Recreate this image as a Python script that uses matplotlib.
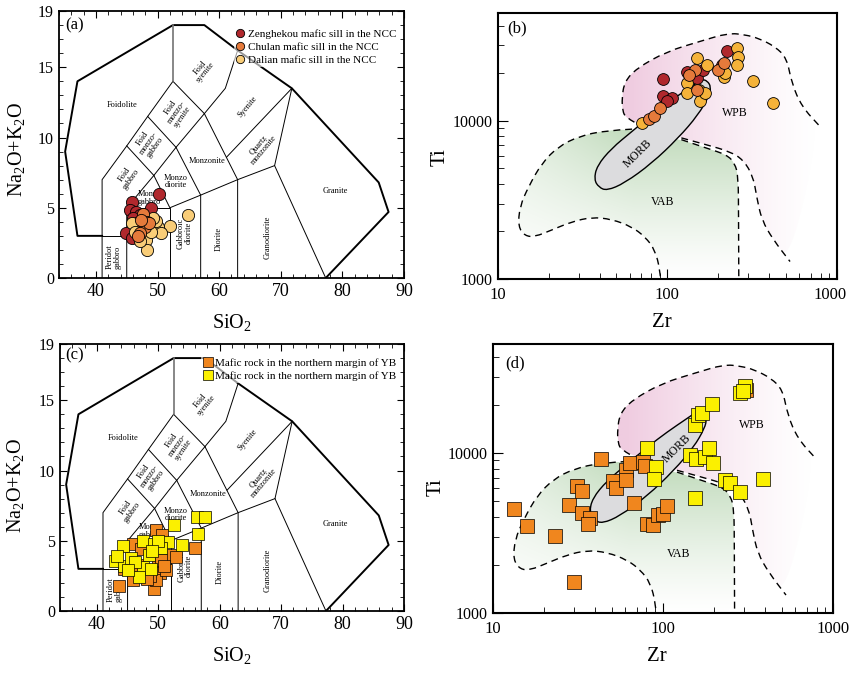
import numpy as np
import matplotlib
matplotlib.use('Agg')
import matplotlib.pyplot as plt
from matplotlib.path import Path
from matplotlib.patches import PathPatch
from matplotlib.lines import Line2D
from matplotlib.transforms import ScaledTranslation
from matplotlib.ticker import MultipleLocator, FixedLocator, NullFormatter, FuncFormatter, LogLocator

plt.rcParams['font.family'] = ['Liberation Serif', 'DejaVu Serif']
plt.rcParams['mathtext.fontset'] = 'custom'
plt.rcParams['mathtext.rm'] = 'Liberation Serif'
plt.rcParams['mathtext.it'] = 'Liberation Serif:italic'

# ---------------- data: TAS (SiO2 vs Na2O+K2O) ----------------
zeng_si = [50.2, 45.9, 49.0, 45.5, 46.5, 47.2, 46.0, 44.8, 45.8, 46.6, 48.2]
zeng_alk = [6.0, 5.4, 5.0, 4.85, 4.7, 4.5, 4.3, 3.2, 2.85, 3.9, 4.2]
chul_si = [47.7, 48.3, 47.9, 47.2, 46.8, 48.6, 47.3]
chul_alk = [4.55, 4.0, 3.65, 3.2, 3.0, 3.9, 4.1]
dal_si = [54.9, 52.0, 50.1, 50.6, 45.8, 49.8, 48.2, 48.3, 46.4, 47.2, 48.9, 49.3]
dal_alk = [4.5, 3.7, 3.65, 3.2, 3.9, 4.05, 2.7, 2.0, 3.3, 2.65, 3.3, 4.3]

yb_or_si = [43.6, 45.9, 49.3, 49.6, 50.6, 55.9, 52.3, 52.9, 49.9, 50.2, 49.6, 45.9,
            50.4, 46.9, 48.6, 51.2, 47.2, 44.5, 50.9, 48.2]
yb_or_alk = [1.8, 2.2, 1.6, 5.8, 5.4, 4.45, 4.0, 3.85, 3.4, 2.7, 2.2, 4.8,
             3.6, 3.3, 2.5, 2.9, 4.4, 3.0, 3.2, 2.3]
yb_ye_si = [56.3, 57.6, 52.6, 56.4, 53.9, 51.6, 47.5, 44.2, 42.9, 44.5, 47.5, 48.5,
            46.9, 45.6, 49.3, 50.4, 48.8, 43.3, 50.0, 49.0, 46.2, 45.0]
yb_ye_alk = [6.7, 6.7, 6.1, 5.45, 4.7, 4.9, 5.0, 4.6, 3.55, 3.2, 3.1, 4.0,
             2.4, 3.75, 4.8, 4.45, 3.0, 3.9, 5.0, 4.3, 3.5, 2.9]

# ---------------- data: Ti vs Zr ----------------
zeng_zr = [94.7, 94.7, 106, 130, 149, 162, 209, 224, 100]
zeng_ti = [18400, 14300, 13900, 20500, 18600, 21000, 22600, 27500, 13300]
chul_zr = [78, 84, 90.6, 145, 149, 200, 215, 135]
chul_ti = [10300, 10800, 12000, 21000, 15700, 21000, 23200, 19500]
dal_zr = [70.6, 149, 171, 130, 130, 153, 156, 167, 215, 256, 262, 256, 321, 422, 219]
dal_ti = [9700, 24950, 22600, 17300, 14950, 15700, 13250, 14950, 19060, 28840, 25500,
          22600, 17740, 12900, 20050]

yb_or_zr = [13.4, 16.0, 23.3, 30.1, 31.2, 33.4, 28.2, 33.4, 37.3, 36.3, 43.2, 51.2,
            53.1, 60.5, 60.5, 64.1, 76.0, 78.8, 67.6, 80.3, 87.7, 94.1, 100.6, 106.2, 310]
yb_or_ti = [4450, 3500, 3030, 1565, 6230, 5800, 4720, 4240, 3910, 3590, 9200, 6730,
            6030, 7780, 6800, 8650, 8800, 8240, 4850, 3590, 3550, 4100, 4140, 4690, 25000]
yb_ye_zr = [80.3, 91.2, 88.6, 154.6, 144.4, 156.7, 177, 187.7, 196.5, 154.6, 161.6,
            170.5, 193.6, 232, 248, 284, 386, 284, 304, 295]
yb_ye_ti = [10740, 8170, 6900, 5220, 9750, 9160, 9440, 10740, 8650, 15070, 17380,
            17800, 20280, 6800, 6540, 5690, 6870, 23770, 26180, 24320]

# ---------------- TAS field boundaries (Middlemost 1994) ----------------
tas_outer = [(41, 3), (37, 3), (35, 9), (37, 14), (52.5, 18), (57.6, 18), (63, 16.2),
             (71.8, 13.5), (85.9, 6.8), (87.5, 4.7), (77.3, 0)]
tas_inner = [
    [(41, 0), (41, 7), (45, 9.4), (48.4, 11.5), (52.5, 14)],
    [(41, 3), (45, 3)],
    [(45, 0), (45, 5), (49.4, 7.3), (53, 9.3), (57.6, 11.7), (61, 13.5), (63, 16.2)],
    [(45, 5), (52, 5), (52, 0)],
    [(45, 9.4), (49.4, 7.3)],
    [(48.4, 11.5), (53, 9.3)],
    [(52.5, 14), (57.6, 11.7)],
    [(49.4, 7.3), (52, 5), (57, 5.9), (63, 7), (69, 8), (71.8, 13.5)],
    [(53, 9.3), (57, 5.9), (57, 0)],
    [(57.6, 11.7), (63, 7), (63, 0)],
    [(61.2, 8.6), (71.8, 13.5)],
    [(69, 8), (77.3, 0)],
]
tas_labels = [
    ('Foidolite', 44.2, 12.3, 0),
    ('Foid\nsyenite', 57.3, 14.8, 50),
    ('Foid\nmonzo-\nsyenite', 53.1, 11.8, 55),
    ('Foid\nmonzo-\ngabbro', 48.6, 9.6, 55),
    ('Foid\ngabbro', 45.2, 7.2, 55),
    ('Monzo\ngabbro', 48.7, 5.7, 0),
    ('Monzo\ndiorite', 52.9, 6.85, 0),
    ('Monzonite', 58.1, 8.3, 0),
    ('Syenite', 64.6, 12.2, 50),
    ('Quartz\nmonzonite', 66.8, 9.3, 50),
    ('Granite', 78.8, 6.2, 0),
    ('Granodiorite', 67.8, 2.9, 90),
    ('Diorite', 60.0, 2.8, 90),
    ('Gabbroic\ndiorite', 54.4, 3.2, 90),
    ('Peridot\ngabbro', 42.9, 1.5, 90),
]

# ---------------- Ti-Zr fields (Pearce & Cann 1973) ----------------
morb_zr = [37, 39.5, 44, 56, 81, 116, 152, 176, 181, 172, 160, 139, 106, 81, 61.7, 46.9, 38.5]
morb_ti = [4250, 3800, 3620, 4040, 5390, 7780, 10900, 14300, 16400, 17900, 18300, 16500,
           13560, 10900, 8540, 6700, 5200]
wpb_up_zr = [64, 57, 54.5, 54, 56, 66, 99, 156, 229, 287, 344, 431, 506, 541, 620, 795]
wpb_up_ti = [9800, 10500, 11500, 14000, 17700, 21500, 27400, 31800, 35900, 35000, 33300,
             29500, 24950, 17300, 12300, 9200]
wpb_lo_zr = [121, 171, 234, 281, 321, 336, 360, 422, 529]
wpb_lo_ti = [7800, 7050, 6390, 5660, 4440, 3320, 2360, 1765, 1290]
vab_r_zr = [121, 171, 224, 250, 262, 263, 264]
vab_r_ti = [7600, 6714, 6100, 5400, 4440, 2500, 850]
vab_l_zr = [62, 43, 30, 22.8, 18.2, 15.2, 13.5, 13.2, 14.5, 16.6, 20.8, 27.3, 35.8, 47,
            61.7, 73.9, 84.6, 90.6, 92]
vab_l_ti = [8860, 8690, 7960, 6880, 5400, 3840, 2870, 2140, 1870, 1850, 2040, 2300, 2460,
            2390, 2140, 1850, 1530, 1140, 850]


def smooth_path(xs, ys, closed=False):
    # quadratic B-spline style path in log space
    p = np.column_stack([np.log10(xs), np.log10(ys)])
    n = len(p)
    if closed:
        mids = (p + np.roll(p, -1, axis=0)) / 2
        verts = [mids[-1]]
        codes = [Path.MOVETO]
        for i in range(n):
            verts += [p[i], mids[i]]
            codes += [Path.CURVE3, Path.CURVE3]
    else:
        verts = [p[0]]
        codes = [Path.MOVETO]
        for i in range(1, n - 1):
            verts += [p[i], (p[i] + p[i + 1]) / 2]
            codes += [Path.CURVE3, Path.CURVE3]
        verts.append(p[-1])
        codes.append(Path.LINETO)
    return Path(10 ** np.array(verts), codes)


def gradient(ax, amp, color, clip):
    rgb = np.ones(amp.shape + (3,)) - amp[:, :, None] * (1 - np.array(color))[None, None, :]
    im = ax.imshow(rgb, extent=(0, 1, 0, 1), transform=ax.transAxes, origin='lower',
                   aspect='auto', interpolation='bilinear', zorder=0)
    im.set_clip_path(clip)


def draw_tas(ax):
    ox, oy = zip(*tas_outer)
    ax.plot(ox, oy, color='k', lw=1.4, zorder=2)
    for seg in tas_inner:
        sx, sy = zip(*seg)
        ax.plot(sx, sy, color='k', lw=0.7, zorder=2)
    ax.plot([52.5, 52.5], [14, 18], color='0.45', lw=1.2, zorder=2)
    for txt, x, y, rot in tas_labels:
        ax.text(x, y, txt, fontsize=6, rotation=rot, ha='center', va='center',
                linespacing=0.9, zorder=2)
    ax.set_xlim(34, 90)
    ax.set_ylim(0, 19)
    ax.xaxis.set_major_locator(MultipleLocator(10))
    ax.xaxis.set_minor_locator(MultipleLocator(2))
    ax.yaxis.set_major_locator(FixedLocator([0, 5, 10, 15, 19]))
    ax.yaxis.set_minor_locator(MultipleLocator(1))
    ax.tick_params(which='both', direction='in', top=True, right=True)
    ax.tick_params(which='major', length=5, width=0.8)
    ax.tick_params(which='minor', length=3, width=0.6)
    ax.tick_params(axis='x', labelsize=13)
    ax.tick_params(axis='y', labelsize=11.5)
    for s in ax.spines.values():
        s.set_linewidth(1.3)
    ax.set_xlabel('SiO$_2$', fontsize=14.5, va='center')
    ax.xaxis.set_label_coords(0.5, -0.165)
    ax.set_ylabel('Na$_2$O+K$_2$O', fontsize=14.5, va='center')


def draw_tizr(ax, morb_lab, wpb_lab, vab_lab):
    ax.set_xscale('log')
    ax.set_yscale('log')
    ax.set_xlim(10, 1000)
    ax.set_ylim(1000, 48000)
    ax.set_autoscale_on(False)

    fx, fy = np.meshgrid(np.linspace(0, 1, 200), np.linspace(0, 1, 200))

    # WPB pink fill, fading to the right
    wpb_fill = smooth_path(wpb_up_zr + wpb_lo_zr[::-1], wpb_up_ti + wpb_lo_ti[::-1], closed=True)
    wp = PathPatch(wpb_fill, facecolor='none', edgecolor='none', transform=ax.transData)
    ax.add_patch(wp)
    amp = np.clip(1 - (fx - 0.39) / 0.55, 0, 1) ** 1.3
    gradient(ax, amp, (0.94, 0.80, 0.88), wp)

    # VAB green fill, fading downward and to the left
    vab_fill = smooth_path(vab_l_zr + vab_r_zr[::-1], vab_l_ti + vab_r_ti[::-1], closed=True)
    vp = PathPatch(vab_fill, facecolor='none', edgecolor='none', transform=ax.transData)
    ax.add_patch(vp)
    amp = np.clip(fy / 0.55, 0, 1) ** 1.2 * (0.45 + 0.55 * np.clip((fx - 0.05) / 0.35, 0, 1))
    gradient(ax, amp, (0.76, 0.86, 0.74), vp)

    dash = (0, (5, 3.5))
    for zx, ty_ in [(wpb_up_zr, wpb_up_ti), (wpb_lo_zr, wpb_lo_ti),
                    (vab_r_zr, vab_r_ti), (vab_l_zr, vab_l_ti)]:
        ax.add_patch(PathPatch(smooth_path(zx, ty_), facecolor='none', edgecolor='k',
                               lw=1.0, linestyle=dash, zorder=2))
    ax.add_patch(PathPatch(smooth_path(morb_zr, morb_ti, closed=True), facecolor='#dcdcde',
                           edgecolor='k', lw=1.0, zorder=1.5))
    ax.text(morb_lab[0], morb_lab[1], 'MORB', fontsize=8.5, rotation=45,
            ha='center', va='center', zorder=2)
    ax.text(wpb_lab[0], wpb_lab[1], 'WPB', fontsize=8.5, ha='center', va='center', zorder=2)
    ax.text(vab_lab[0], vab_lab[1], 'VAB', fontsize=8.5, ha='center', va='center', zorder=2)

    ax.set_xlim(10, 1000)
    ax.set_ylim(1000, 48000)
    fmt = FuncFormatter(lambda v, p: '%d' % round(v))
    ax.xaxis.set_major_locator(FixedLocator([10, 100, 1000]))
    ax.yaxis.set_major_locator(FixedLocator([1000, 10000]))
    ax.xaxis.set_major_formatter(fmt)
    ax.yaxis.set_major_formatter(fmt)
    ax.xaxis.set_minor_locator(LogLocator(base=10, subs=np.arange(2, 10)))
    ax.yaxis.set_minor_locator(LogLocator(base=10, subs=np.arange(2, 10)))
    ax.xaxis.set_minor_formatter(NullFormatter())
    ax.yaxis.set_minor_formatter(NullFormatter())
    ax.tick_params(which='both', direction='in', top=False, right=False)
    ax.tick_params(which='major', length=7, width=0.8)
    ax.tick_params(which='minor', length=4, width=0.6)
    ax.tick_params(axis='x', labelsize=12, pad=6)
    ax.tick_params(axis='y', labelsize=11.5)
    for s in ax.spines.values():
        s.set_linewidth(1.5)
    ax.set_xlabel('Zr', fontsize=15, va='center')
    ax.xaxis.set_label_coords(0.483, -0.165)
    ax.set_ylabel('Ti', fontsize=15, va='center')


fig = plt.figure(figsize=(8.51, 6.73), dpi=100)
ax_a = fig.add_axes([0.0693, 0.5869, 0.4054, 0.3967])
ax_b = fig.add_axes([0.5848, 0.5854, 0.3987, 0.3952])
ax_c = fig.add_axes([0.0705, 0.0921, 0.4042, 0.3967])
ax_d = fig.add_axes([0.5790, 0.0896, 0.3999, 0.3988])

c_zeng = '#b0282d'
c_chul = '#e57a3b'
c_dal_a = '#f9cd78'
c_dal_b = '#f5b33a'
c_or = '#f0861e'
c_ye = '#fbf000'

# (a)
draw_tas(ax_a)
ax_a.yaxis.set_label_coords(-0.122, 0.48)
ms = 8.8
ax_a.plot(zeng_si, zeng_alk, 'o', ms=ms, mfc=c_zeng, mec='k', mew=0.6, zorder=3)
ax_a.plot(dal_si, dal_alk, 'o', ms=ms, mfc=c_dal_a, mec='k', mew=0.6, zorder=3)
ax_a.plot(chul_si, chul_alk, 'o', ms=ms, mfc=c_chul, mec='k', mew=0.6, zorder=3)
h = [Line2D([], [], ls='', marker='o', ms=6, mfc=c, mec='k', mew=0.6)
     for c in (c_zeng, c_chul, c_dal_a)]
leg = ax_a.legend(h, ['Zenghekou mafic sill in the NCC', 'Chulan mafic sill in the NCC',
                      'Dalian mafic sill in the NCC'],
                  loc='upper right', bbox_to_anchor=(0.985, 0.942), fontsize=8,
                  frameon=True, framealpha=0.6, edgecolor='none', handlelength=0.8,
                  handletextpad=0.3, borderpad=0.2, labelspacing=0.3, borderaxespad=0)
leg.set_zorder(4)
ax_a.text(0.017, 0.948, '(a)', transform=ax_a.transAxes, fontsize=12, ha='left', va='center')

# (b)
draw_tizr(ax_b, (67.4, 6245), (250, 11200), (93.4, 3083))
ax_b.yaxis.set_label_coords(-0.17, 0.46)
ax_b.plot(zeng_zr, zeng_ti, 'o', ms=8.5, mfc=c_zeng, mec='k', mew=0.6, zorder=3)
ax_b.plot(dal_zr, dal_ti, 'o', ms=8.5, mfc=c_dal_b, mec='k', mew=0.6, zorder=3)
ax_b.plot(chul_zr, chul_ti, 'o', ms=8.5, mfc=c_chul, mec='k', mew=0.6, zorder=3)
ax_b.text(0.027, 0.942, '(b)', transform=ax_b.transAxes, fontsize=12, ha='left', va='center')
# keep the last Zr label inside the figure edge
last = ax_b.xaxis.get_major_ticks()[-1].label1
last.set_transform(last.get_transform() + ScaledTranslation(-5 / 72, 0, fig.dpi_scale_trans))

# (c)
draw_tas(ax_c)
ax_c.yaxis.set_label_coords(-0.128, 0.472)
ax_c.plot(yb_or_si, yb_or_alk, 's', ms=9.2, mfc=c_or, mec='k', mew=0.5, zorder=3)
ax_c.plot(yb_ye_si, yb_ye_alk, 's', ms=9.2, mfc=c_ye, mec='k', mew=0.5, zorder=3)
h = [Line2D([], [], ls='', marker='s', ms=6.5, mfc=c, mec='k', mew=0.5) for c in (c_or, c_ye)]
leg = ax_c.legend(h, ['Mafic rock in the northern margin of YB',
                      'Mafic rock in the northern margin of YB'],
                  loc='upper right', bbox_to_anchor=(0.985, 0.955), fontsize=8,
                  frameon=True, framealpha=0.6, edgecolor='none', handlelength=0.8,
                  handletextpad=0.3, borderpad=0.2, labelspacing=0.25, borderaxespad=0)
leg.set_zorder(4)
ax_c.text(0.014, 0.959, '(c)', transform=ax_c.transAxes, fontsize=12, ha='left', va='center')

# (d)
draw_tizr(ax_d, (120.5, 10740), (333, 15070), (123, 2335))
ax_d.yaxis.set_label_coords(-0.165, 0.468)
ax_d.plot(yb_or_zr, yb_or_ti, 's', ms=9.4, mfc=c_or, mec='k', mew=0.5, zorder=3)
ax_d.plot(yb_ye_zr, yb_ye_ti, 's', ms=9.4, mfc=c_ye, mec='k', mew=0.5, zorder=3)
ax_d.text(0.036, 0.929, '(d)', transform=ax_d.transAxes, fontsize=12, ha='left', va='center')

fig.savefig('out.png', dpi=100)
